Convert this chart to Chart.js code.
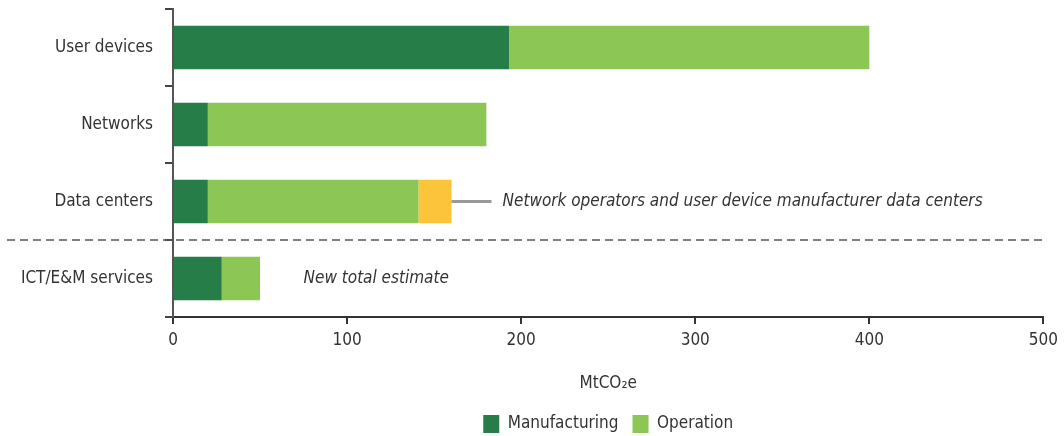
<!DOCTYPE html>
<html>
<head>
<meta charset="utf-8">
<script src="https://cdn.jsdelivr.net/npm/chart.js@4.4.1/dist/chart.umd.min.js"></script>
<style>
  html, body { margin: 0; padding: 0; background: #fff; }
  #wrap { width: 1064px; height: 436px; }
</style>
</head>
<body>
<div id="wrap"><canvas id="myChart" width="1064" height="436"></canvas></div>
<script>
// dados
const categories = ['User devices', 'Networks', 'Data centers', 'ICT/E&M services'];
const manufacturing = [193, 20, 20, 28];
const operation = [207, 160, 121, 22];
const otherDataCenters = [0, 0, 19, 0];
const xTicks = [0, 100, 200, 300, 400, 500];
const noteDataCenters = 'Network operators and user device manufacturer data centers';
const noteIct = 'New total estimate';
const noteIctAt = 75;

const FONT = '"Liberation Sans Narrow", "DejaVu Sans Condensed", "Roboto Condensed", sans-serif';
const DARK = '#267d48';
const LIGHT = '#8cc654';
const YELLOW = '#fcc43a';

// linha tracejada e anotações
const notes = {
  id: 'notes',
  afterLayout(chart) {
    // legenda centrada sob a área do gráfico
    const lg = chart.legend;
    lg.left = chart.chartArea.left;
    lg.right = chart.chartArea.right;
    lg.top = chart.chartArea.bottom + 84;
    lg.bottom = lg.top + lg.height;
    if (lg.adjustHitBoxes) lg.adjustHitBoxes();
  },
  afterDatasetsDraw(chart) {
    const { ctx, chartArea, scales: { x, y } } = chart;
    ctx.save();
    const sepY = (y.getPixelForValue(2) + y.getPixelForValue(3)) / 2;
    ctx.strokeStyle = '#555';
    ctx.lineWidth = 1.5;
    ctx.setLineDash([8, 5]);
    ctx.beginPath();
    ctx.moveTo(7, sepY);
    ctx.lineTo(chartArea.right, sepY);
    ctx.stroke();
    ctx.setLineDash([]);

    const dcEnd = x.getPixelForValue(manufacturing[2] + operation[2] + otherDataCenters[2]);
    const dcY = y.getPixelForValue(2);
    ctx.strokeStyle = '#999';
    ctx.lineWidth = 3;
    ctx.beginPath();
    ctx.moveTo(dcEnd, dcY);
    ctx.lineTo(dcEnd + 40, dcY);
    ctx.stroke();

    ctx.font = 'italic 17px ' + FONT;
    ctx.fillStyle = '#333';
    ctx.textBaseline = 'middle';
    ctx.textAlign = 'left';
    ctx.fillText(noteDataCenters, dcEnd + 51, dcY);
    ctx.fillText(noteIct, x.getPixelForValue(noteIctAt), y.getPixelForValue(3));
    ctx.restore();
  }
};

const ctx = document.getElementById('myChart').getContext('2d');
new Chart(ctx, {
  type: 'bar',
  data: {
    labels: categories,
    datasets: [
      { label: 'Manufacturing', data: manufacturing, backgroundColor: DARK },
      { label: 'Operation', data: operation, backgroundColor: LIGHT },
      { label: 'Other', data: otherDataCenters, backgroundColor: YELLOW }
    ]
  },
  options: {
    indexAxis: 'y',
    responsive: false,
    animation: false,
    datasets: { bar: { barPercentage: 0.564, categoryPercentage: 1, borderWidth: 0 } },
    layout: { padding: { top: 9, right: 17, left: 0, bottom: 0 } },
    scales: {
      x: {
        stacked: true,
        min: 0,
        max: 500,
        afterBuildTicks: (s) => { s.ticks = xTicks.map(v => ({ value: v })); },
        afterFit: (s) => { s.height = 77; },
        border: { color: '#333', width: 2 },
        grid: { drawOnChartArea: false, drawTicks: true, tickLength: 7, color: '#333', lineWidth: 2 },
        ticks: { color: '#333', padding: 6, font: { family: FONT, size: 17 } },
        title: {
          display: true,
          text: 'MtCO₂e',
          color: '#333',
          padding: { top: 4, bottom: 0 },
          font: { family: FONT, size: 17 }
        }
      },
      y: {
        stacked: true,
        afterFit: (s) => { s.width = 173; s.paddingTop = 0; s.paddingBottom = 0; },
        border: { color: '#555', width: 2 },
        grid: { drawOnChartArea: false, drawTicks: true, tickLength: 8, color: '#444', lineWidth: 2 },
        ticks: { color: '#333', padding: 12, font: { family: FONT, size: 17 } }
      }
    },
    plugins: {
      legend: {
        position: 'bottom',
        labels: {
          boxWidth: 16,
          boxHeight: 18,
          padding: 14,
          color: '#333',
          font: { family: FONT, size: 17 },
          filter: (item) => item.datasetIndex < 2
        }
      },
      tooltip: { enabled: false }
    }
  },
  plugins: [notes]
});
</script>
</body>
</html>
